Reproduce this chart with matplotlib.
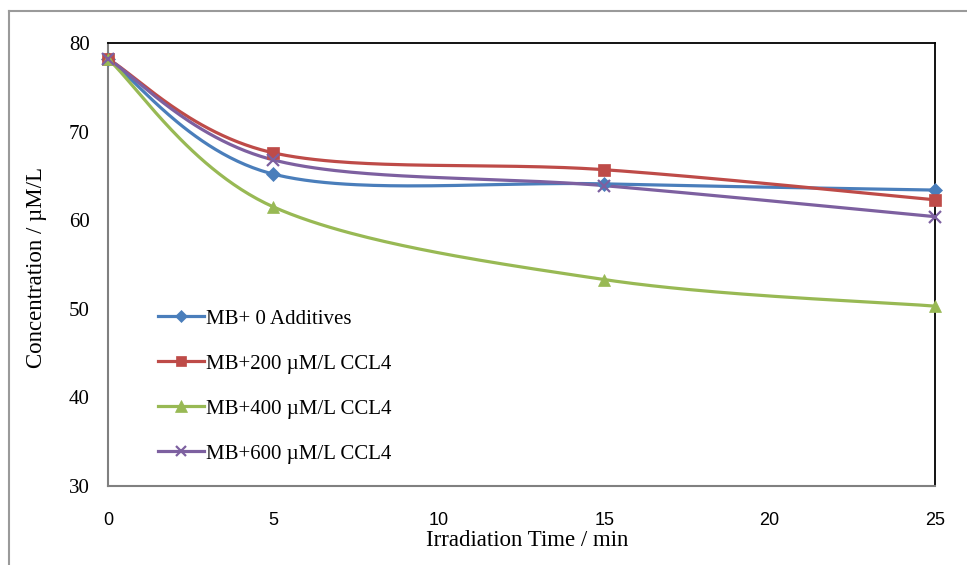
import numpy as np
import matplotlib
matplotlib.use("Agg")
import matplotlib.pyplot as plt
from matplotlib.lines import Line2D

time_min = [0, 5, 15, 25]
mb_0_additives = [78.2, 65.2, 64.1, 63.4]
mb_200_ccl4 = [78.2, 67.6, 65.7, 62.3]
mb_400_ccl4 = [78.2, 61.5, 53.3, 50.3]
mb_600_ccl4 = [78.2, 66.8, 63.9, 60.4]
labels = ["MB+ 0 Additives", "MB+200 \u00b5M/L CCL4", "MB+400 \u00b5M/L CCL4", "MB+600 \u00b5M/L CCL4"]
x_ticks = [0, 5, 10, 15, 20, 25]
y_ticks = [30, 40, 50, 60, 70, 80]

colors = ["#4A7EBB", "#BE4B48", "#98B954", "#7D60A0"]
markers = ["D", "s", "^", "x"]
msizes = [7, 8.5, 9, 8.5]


def smooth(x, y, n=60):
    P = np.column_stack([x, y]).astype(float)
    k = len(P)
    out = []
    for i in range(k - 1):
        p0 = P[i - 1] if i > 0 else P[i]
        p1 = P[i]
        p2 = P[i + 1]
        p3 = P[i + 2] if i + 2 < k else P[i + 1]
        c1 = p1 + (p2 - p0) / 6.0
        c2 = p2 - (p3 - p1) / 6.0
        t = np.linspace(0, 1, n)[:, None]
        seg = ((1 - t) ** 3) * p1 + 3 * ((1 - t) ** 2) * t * c1 + 3 * (1 - t) * t ** 2 * c2 + t ** 3 * p2
        out.append(seg if i == 0 else seg[1:])
    s = np.vstack(out)
    return s[:, 0], s[:, 1]


plt.rcParams['font.family'] = ['Liberation Serif', 'DejaVu Serif']

fig = plt.figure(figsize=(9.67, 5.65), dpi=100)
ax = fig.add_axes([108 / 967, 79 / 565, 827 / 967, 443 / 565])

series = [mb_0_additives, mb_200_ccl4, mb_400_ccl4, mb_600_ccl4]
handles = []
for ys, c, m, ms, lab in zip(series, colors, markers, msizes, labels):
    sx, sy = smooth(time_min, ys)
    ax.plot(sx, sy, color=c, lw=2.3, solid_capstyle='round', zorder=3)
    mew = 1.6 if m == 'x' else 0.5
    ax.plot(time_min, ys, linestyle='none', marker=m, color=c, ms=ms, mew=mew, zorder=4, clip_on=False)
    handles.append(Line2D([0], [0], color=c, lw=2.3, marker=m, ms=ms * 0.9, mew=mew))

ax.set_xlim(0, 25)
ax.set_ylim(30, 80)
ax.set_xticks(x_ticks)
ax.set_yticks(y_ticks)
ax.set_xticklabels([str(v) for v in x_ticks], fontfamily='Liberation Sans', fontsize=13)
ax.set_yticklabels([str(v) for v in y_ticks], fontsize=15)
ax.tick_params(axis='both', length=0)
ax.tick_params(axis='y', pad=13)
ax.tick_params(axis='x', pad=19)

for side in ['top', 'right']:
    ax.spines[side].set_color('black')
    ax.spines[side].set_linewidth(1.3)
for side in ['left', 'bottom']:
    ax.spines[side].set_color('#808080')
    ax.spines[side].set_linewidth(1.5)

fig.text(527 / 967, 1 - 541 / 565, "Irradiation Time / min", ha='center', va='center', fontsize=16.5)
fig.text(37 / 967, 1 - 268 / 565, "Concentration / \u00b5M/L", ha='center', va='center', rotation=90, fontsize=16.5)

leg = ax.legend(handles, labels, loc='upper left', bbox_to_anchor=(158 / 967, 1 - 309 / 565),
                bbox_transform=fig.transFigure, frameon=False, fontsize=15,
                handlelength=2.2, handletextpad=0.1, labelspacing=1.22, borderaxespad=0, borderpad=0)

fig.add_artist(Line2D([9 / 967, 9 / 967], [0, 1 - 11 / 565], transform=fig.transFigure, color='#9a9a9a', lw=1.5))
fig.add_artist(Line2D([9 / 967, 1], [1 - 11 / 565, 1 - 11 / 565], transform=fig.transFigure, color='#9a9a9a', lw=1.5))

fig.savefig("out.png", dpi=100)
